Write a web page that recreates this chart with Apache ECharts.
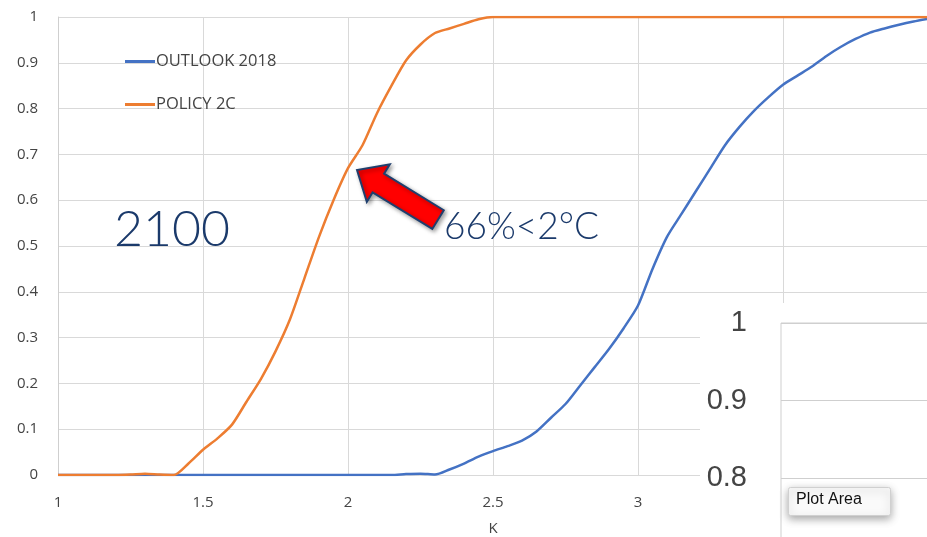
<!DOCTYPE html>
<html>
<head>
<meta charset="utf-8">
<script src="https://cdn.jsdelivr.net/npm/echarts@6/dist/echarts.min.js"></script>
<style>html,body{margin:0;padding:0;background:#fff;}#c{width:927px;height:537px;}</style>
</head>
<body>
<div id="c"></div>
<script>
const kValues = [1.00,1.05,1.10,1.15,1.20,1.25,1.30,1.35,1.40,1.45,1.50,1.55,1.60,1.65,1.70,1.75,1.80,1.85,1.90,1.95,2.00,2.05,2.10,2.15,2.20,2.25,2.30,2.35,2.40,2.45,2.50,2.55,2.60,2.65,2.70,2.75,2.80,2.85,2.90,2.95,3.00,3.05,3.10,3.15,3.20,3.25,3.30,3.35,3.40,3.45,3.50,3.55,3.60,3.65,3.70,3.75,3.80,3.85,3.90,3.95,4.00];
const outlook2018 = [0,0,0,0,0,0,0,0,0,0,0,0,0,0,0,0,0,0,0,0,0,0,0,0,0.002,0.003,0.001,0.012,0.025,0.04,0.052,0.063,0.075,0.095,0.125,0.155,0.195,0.235,0.275,0.32,0.37,0.45,0.52,0.57,0.62,0.67,0.72,0.76,0.795,0.825,0.852,0.872,0.892,0.915,0.935,0.952,0.966,0.975,0.983,0.99,0.996];
const policy2C = [0,0,0,0,0,0.001,0.003,0.001,0,0.025,0.055,0.08,0.11,0.16,0.21,0.27,0.34,0.43,0.52,0.60,0.67,0.72,0.79,0.85,0.905,0.94,0.965,0.975,0.985,0.995,1,1,1,1,1,1,1,1,1,1,1,1,1,1,1,1,1,1,1,1,1,1,1,1,1,1,1,1,1,1,1];
const seriesNames = ['OUTLOOK 2018','POLICY 2C'];
const insetTicks = ['1','0.9','0.8'];

const chart = echarts.init(document.getElementById('c'), null, {renderer:'canvas'});
const pair = arr => kValues.map((k,i)=>[k,arr[i]]);
const labelFont = {color:'#444', fontSize:15, fontFamily:'Open Sans'};

// arrow geometry (tip → tail)
const tip=[357,170], dir=[0.853,0.522], perp=[-0.522,0.853];
const loc=(a,p)=>[tip[0]+a*dir[0]+p*perp[0], tip[1]+a*dir[1]+p*perp[1]];
const arrowPts=[loc(0,0),loc(25,22),loc(25,11),loc(95,11),loc(95,-11),loc(25,-11),loc(25,-22)];

chart.setOption({
  animation:false,
  backgroundColor:'#fff',
  grid:[
    {left:58, top:17, right:-1, bottom:62, containLabel:false, outerBoundsMode:'none'},
    {left:781, top:323, right:-20, bottom:-18.5, containLabel:false, outerBoundsMode:'none',
     show:true, borderColor:'#cfcfcf', borderWidth:1, backgroundColor:'#fff', z:120}
  ],
  legend:{
    orient:'vertical', left:125, top:53, padding:0, itemGap:26, itemWidth:30, itemHeight:3, icon:'rect',
    textStyle:{color:'#444', fontSize:16.5, fontFamily:'Open Sans', padding:[0,0,0,-4]},
    data:seriesNames
  },
  xAxis:[
    {type:'value', gridIndex:0, min:1, max:4, interval:0.5, name:'K', nameLocation:'middle', nameGap:46,
     nameTextStyle:{color:'#444', fontSize:15, fontFamily:'Open Sans'},
     axisLine:{show:false}, axisTick:{show:false}, axisLabel:Object.assign({margin:20},labelFont),
     splitLine:{show:true, lineStyle:{color:'#d9d9d9', width:1}}},
    {type:'value', gridIndex:1, min:0, max:1, show:false}
  ],
  yAxis:[
    {type:'value', gridIndex:0, min:0, max:1, interval:0.1,
     axisLine:{show:true, lineStyle:{color:'#cfcfcf'}}, axisTick:{show:false},
     axisLabel:Object.assign({margin:20, formatter:v=>String(Math.round(v*10)/10)},labelFont),
     splitLine:{show:true, lineStyle:{color:'#d9d9d9', width:1}}},
    {type:'value', gridIndex:1, min:0.7, max:1, interval:0.1, z:130,
     axisLine:{show:false}, axisTick:{show:false},
     axisLabel:{margin:34, color:'#444', fontSize:29, fontFamily:'Liberation Sans', padding:[6,0,0,0],
       formatter:v=>{const s=String(Math.round(v*10)/10); return insetTicks.indexOf(s)>=0?s:'';}},
     splitLine:{show:true, lineStyle:{color:'#cfcfcf', width:1}}}
  ],
  series:[
    {name:seriesNames[0], type:'line', xAxisIndex:0, yAxisIndex:0, data:pair(outlook2018), showSymbol:false, symbol:'none',
     smooth:0.25, lineStyle:{color:'#4472c4', width:2.5}, itemStyle:{color:'#4472c4'}},
    {name:seriesNames[1], type:'line', xAxisIndex:0, yAxisIndex:0, data:pair(policy2C), showSymbol:false, symbol:'none',
     smooth:0.25, lineStyle:{color:'#ed7d31', width:2.5}, itemStyle:{color:'#ed7d31'}}
  ],
  graphic:[
    {type:'rect', left:700, top:303, z:100, shape:{width:240, height:240}, style:{fill:'#fff'}},
    {type:'text', left:114, top:205, z:50, style:{text:'2100', fill:'#1b3a6b', font:'300 50px Lato'}},
    {type:'text', left:444, top:209, z:50, style:{text:'66%<2°C', fill:'#1b3a6b', font:'300 37px Lato'}},
    {type:'polygon', z:60, shape:{points:arrowPts},
     style:{fill:'#ff0000', stroke:'#1f3f6e', lineWidth:2, shadowBlur:4, shadowColor:'rgba(0,0,0,0.35)', shadowOffsetX:2, shadowOffsetY:2}},
    {type:'rect', left:788, top:487, z:200, shape:{width:102, height:28, r:2},
     style:{fill:'#fafafa', stroke:'#d0d0d0', lineWidth:1, shadowBlur:8, shadowColor:'rgba(0,0,0,0.35)', shadowOffsetY:3}},
    {type:'text', left:796, top:492, z:201, style:{text:'Plot Area', fill:'#111', font:'16px "Liberation Sans"'}}
  ]
});
</script>
</body>
</html>
